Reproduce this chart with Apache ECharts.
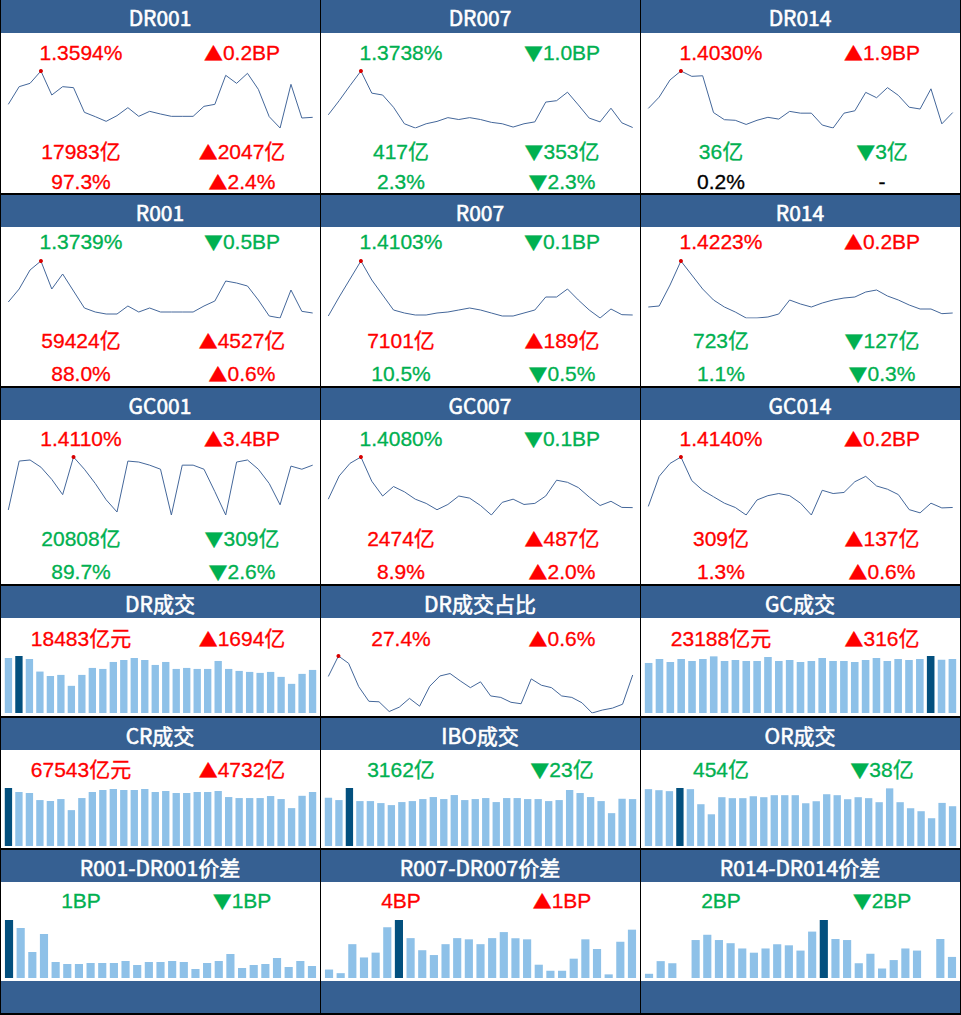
<!DOCTYPE html>
<html>
<head>
<meta charset="utf-8">
<title>资金面</title>
<script src="https://cdn.jsdelivr.net/npm/echarts@6/dist/echarts.min.js"></script>
<style>
  html, body { margin: 0; padding: 0; background: #fff; }
  #main { width: 961px; height: 1015px; }
</style>
</head>
<body>
<div id="main"></div>
<script>
// 面板标题
const panelTitles = [
  'DR001', 'DR007', 'DR014',
  'R001', 'R007', 'R014',
  'GC001', 'GC007', 'GC014',
  'DR成交', 'DR成交占比', 'GC成交',
  'CR成交', 'IBO成交', 'OR成交',
  'R001-DR001价差', 'R007-DR007价差', 'R014-DR014价差'
]

// 利率走势 (%)
const dr001 = [1.3633, 1.3686, 1.3696, 1.3733, 1.3661, 1.3686, 1.3683, 1.3609, 1.3596, 1.3582, 1.3599, 1.3623, 1.3597, 1.3612, 1.3604, 1.3597, 1.3597, 1.3597, 1.3627, 1.3633, 1.3720, 1.3696, 1.3726, 1.3678, 1.3596, 1.3562, 1.3693, 1.3592, 1.3594]
const dr007 = [1.3765, 1.3795, 1.3827, 1.3858, 1.3811, 1.3807, 1.3781, 1.3746, 1.3737, 1.3746, 1.3751, 1.3759, 1.3755, 1.3759, 1.3755, 1.3749, 1.3746, 1.3739, 1.3746, 1.3750, 1.3792, 1.3795, 1.3813, 1.3786, 1.3758, 1.3750, 1.3779, 1.3748, 1.3738]
const dr014 = [1.4037, 1.4056, 1.4085, 1.4100, 1.4091, 1.4092, 1.4030, 1.4018, 1.4017, 1.4010, 1.4017, 1.4022, 1.4019, 1.4032, 1.4029, 1.4029, 1.4009, 1.4004, 1.4029, 1.4033, 1.4064, 1.4055, 1.4072, 1.4059, 1.4039, 1.4036, 1.4070, 1.4011, 1.4030]
const r001 = [1.3772, 1.3811, 1.3868, 1.3895, 1.3811, 1.3856, 1.3805, 1.3754, 1.3742, 1.3736, 1.3736, 1.3760, 1.3742, 1.3754, 1.3742, 1.3742, 1.3742, 1.3742, 1.3760, 1.3775, 1.3835, 1.3829, 1.3820, 1.3778, 1.3730, 1.3724, 1.3808, 1.3744, 1.3739]
const r007 = [1.4100, 1.4157, 1.4211, 1.4265, 1.4208, 1.4163, 1.4118, 1.4109, 1.4103, 1.4103, 1.4109, 1.4112, 1.4118, 1.4124, 1.4118, 1.4109, 1.4100, 1.4100, 1.4109, 1.4118, 1.4157, 1.4157, 1.4181, 1.4148, 1.4118, 1.4094, 1.4121, 1.4104, 1.4103]
const r014 = [1.4241, 1.4244, 1.4307, 1.4379, 1.4337, 1.4295, 1.4262, 1.4241, 1.4226, 1.4208, 1.4208, 1.4211, 1.4220, 1.4262, 1.4250, 1.4241, 1.4253, 1.4262, 1.4268, 1.4271, 1.4286, 1.4292, 1.4274, 1.4262, 1.4247, 1.4235, 1.4235, 1.4221, 1.4223]
const gc001 = [1.3736, 1.4144, 1.4153, 1.4093, 1.3991, 1.3864, 1.4178, 1.4076, 1.3957, 1.3821, 1.3719, 1.4144, 1.4136, 1.4110, 1.4076, 1.3694, 1.4110, 1.4110, 1.4076, 1.3889, 1.3694, 1.4136, 1.4153, 1.4076, 1.3957, 1.3779, 1.4102, 1.4076, 1.4110]
const gc007 = [1.4120, 1.4230, 1.4290, 1.4320, 1.4205, 1.4135, 1.4180, 1.4155, 1.4120, 1.4100, 1.4070, 1.4095, 1.4135, 1.4125, 1.4090, 1.4045, 1.4105, 1.4120, 1.4095, 1.4100, 1.4135, 1.4210, 1.4200, 1.4175, 1.4130, 1.4090, 1.4110, 1.4081, 1.4080]
const gc014 = [1.4145, 1.4285, 1.4345, 1.4375, 1.4265, 1.4220, 1.4190, 1.4160, 1.4140, 1.4105, 1.4175, 1.4195, 1.4205, 1.4195, 1.4160, 1.4105, 1.4220, 1.4205, 1.4210, 1.4260, 1.4285, 1.4240, 1.4225, 1.4200, 1.4130, 1.4115, 1.4160, 1.4138, 1.4140]

// 上三行的文字
const rateLabels = ['1.3594%', '1.3738%', '1.4030%', '1.3739%', '1.4103%', '1.4223%', '1.4110%', '1.4080%', '1.4140%']
const rateChanges = ['▲0.2BP', '▼1.0BP', '▲1.9BP', '▼0.5BP', '▼0.1BP', '▲0.2BP', '▲3.4BP', '▼0.1BP', '▲0.2BP']
const volumeLabels = ['17983亿', '417亿', '36亿', '59424亿', '7101亿', '723亿', '20808亿', '2474亿', '309亿']
const volumeChanges = ['▲2047亿', '▼353亿', '▼3亿', '▲4527亿', '▲189亿', '▼127亿', '▼309亿', '▲487亿', '▲137亿']
const shareLabels = ['97.3%', '2.3%', '0.2%', '88.0%', '10.5%', '1.1%', '89.7%', '8.9%', '1.3%']
const shareChanges = ['▲2.4%', '▼2.3%', '-', '▲0.6%', '▼0.5%', '▼0.3%', '▼2.6%', '▲2.0%', '▲0.6%']

// 成交量 (亿元)
const drVolume = [23600, 24460, 23180, 17780, 15930, 16350, 11660, 16350, 19340, 18910, 21900, 22750, 23600, 22750, 20620, 21900, 18910, 19340, 18910, 18910, 22330, 18910, 18060, 17630, 17210, 17630, 15500, 12510, 16789, 18483]
const drShare = [27.37, 27.79, 27.64, 27.16, 26.86, 26.85, 26.65, 26.74, 26.92, 26.76, 27.17, 27.38, 27.43, 27.28, 27.14, 27.26, 26.97, 26.94, 26.84, 26.81, 27.32, 27.19, 27.14, 26.97, 26.94, 26.83, 26.62, 26.68, 26.72, 26.80, 27.40]
const gcVolume = [21490, 23190, 21910, 23190, 22340, 23190, 24330, 22340, 22770, 22340, 22340, 24050, 22340, 22770, 21910, 22340, 23620, 22340, 22340, 21910, 22770, 23620, 22340, 23190, 22770, 23190, 24480, 22872, 23188]
const crVolume = [72570, 67540, 66280, 57470, 56210, 58730, 44890, 59990, 67540, 70060, 71320, 70060, 70060, 71320, 67540, 68800, 66280, 66280, 67540, 67540, 68800, 61250, 59990, 59990, 59990, 62510, 58730, 47400, 62811, 67543]
const iboVolume = [3254, 3096, 3910, 3028, 3028, 2893, 2757, 2961, 3028, 3164, 3300, 3164, 3435, 3096, 3164, 3232, 2961, 3232, 3232, 3164, 3164, 3028, 3096, 3774, 3571, 3300, 3028, 2215, 3185, 3162]
const orVolume = [649, 637, 626, 662, 649, 477, 362, 557, 546, 546, 568, 557, 580, 580, 580, 488, 511, 591, 580, 534, 557, 546, 500, 658, 500, 431, 397, 317, 492, 454]

// 价差 (BP)
const spread001 = [5.8, 5.0, 2.6, 4.4, 1.6, 1.4, 1.4, 1.5, 1.5, 1.5, 1.7, 1.3, 1.6, 1.6, 1.7, 1.6, 0.9, 1.5, 1.7, 2.4, 1.0, 1.3, 1.4, 2.0, 1.1, 1.7, 1.2]
const spread007 = [0.7, 0.4, 2.8, 1.7, 2.1, 4.2, 4.8, 3.3, 2.3, 1.9, 2.8, 3.3, 3.2, 2.8, 3.3, 3.8, 3.3, 3.2, 1.1, 0.6, 0.6, 1.6, 3.2, 2.4, 0.3, 3.0, 4.0]
const spread014 = [0.4, 1.6, 1.4, 0, 3.6, 4.1, 3.6, 3.3, 2.8, 2.4, 2.8, 3.2, 3.1, 2.6, 4.4, 5.5, 3.7, 3.6, 1.4, 2.3, 0.9, 1.7, 2.8, 2.6, 0, 3.7, 2.0]

// 下三行的文字
const lowerLabels = ['18483亿元', '27.4%', '23188亿元', '67543亿元', '3162亿', '454亿', '1BP', '4BP', '2BP']
const lowerChanges = ['▲1694亿', '▲0.6%', '▲316亿', '▲4732亿', '▼23亿', '▼38亿', '▼1BP', '▲1BP', '▼2BP']

const rateSeries = [dr001, dr007, dr014, r001, r007, r014, gc001, gc007, gc014]
const lowerSeries = [drVolume, drShare, gcVolume, crVolume, iboVolume, orVolume, spread001, spread007, spread014]

// 样式
const HEADER_BLUE = '#366092'
const RED = '#FF0000'
const GREEN = '#00B050'
const LINE_COLOR = '#44679A'
const BAR_LIGHT = '#8EC1E8'
const BAR_DARK = '#03507E'
const VALUE_FONT = '21px "Liberation Sans", Arial, "Noto Sans CJK SC"'
const TRI_FONT = '19px "Noto Sans CJK SC"'
const HEAD_FONT = '21px "Noto Sans CJK SC", "Liberation Sans"'

const colX = [0, 320, 640]
const headerY = [0, 195, 388, 586, 718, 850]
const textY = [[52, 151, 181], [241, 340, 373], [438, 538, 571], [638], [769], [900]]
const chartY = [[71, 128], [261, 318], [457, 515], [656, 713], [788, 846], [920, 978]]

function signColor(s) {
  if (s[0] === '▲') return RED
  if (s[0] === '▼') return GREEN
  return '#000'
}

const graphics = []
const grids = []
const xAxes = []
const yAxes = []
const series = []

function addText(text, x, y, fill, font, strokeWidth) {
  const style = { text: text, fill: fill, font: font, align: 'center', verticalAlign: 'middle' }
  // 描一圈细边让字重一点
  if (strokeWidth) {
    style.stroke = fill
    style.lineWidth = strokeWidth
  }
  // 涨跌三角用大一点的字体
  if (text[0] === '▲' || text[0] === '▼') {
    style.text = '{t|' + text[0] + '}' + text.slice(1)
    style.rich = { t: { font: TRI_FONT, fill: fill } }
  }
  graphics.push({ type: 'text', x: x, y: y, silent: true, style: style })
}

function addRect(x, y, w, h, fill) {
  graphics.push({ type: 'rect', silent: true, shape: { x: x, y: y, width: w, height: h }, style: { fill: fill } })
}

function addChart(values, type, row, col) {
  const i = grids.length
  const isBar = type === 'bar'
  const x0 = colX[col]
  grids.push({
    left: x0 + (isBar ? 3.2 : 8.3),
    width: isBar ? 314.6 : 304.4,
    top: chartY[row][0],
    height: chartY[row][1] - chartY[row][0]
  })
  xAxes.push({ type: 'category', gridIndex: i, show: false, boundaryGap: isBar, data: values.map((v, k) => k + 1) })
  yAxes.push({ type: 'value', gridIndex: i, show: false, min: isBar ? 0 : 'dataMin', max: 'dataMax' })
  if (isBar) {
    const maxIdx = values.indexOf(Math.max(...values))
    series.push({
      type: 'bar', xAxisIndex: i, yAxisIndex: i, silent: true,
      barWidth: '70%',
      itemStyle: { color: BAR_LIGHT },
      data: values.map((v, k) => k === maxIdx ? { value: v, itemStyle: { color: BAR_DARK } } : v)
    })
  } else {
    series.push({
      type: 'line', xAxisIndex: i, yAxisIndex: i, silent: true,
      symbol: 'none',
      lineStyle: { color: LINE_COLOR, width: 1 },
      data: values,
      markPoint: {
        symbol: 'circle', symbolSize: 4,
        itemStyle: { color: '#D80000' },
        label: { show: false },
        data: [{ type: 'max' }]
      }
    })
  }
}

// 背景和分隔线
addRect(0, 0, 961, 1015, '#fff')
panelTitles.forEach((t, p) => {
  const row = Math.floor(p / 3)
  const col = p % 3
  addRect(colX[col] + 1, headerY[row], 319, row === 0 ? 33 : 32, HEADER_BLUE)
  addText(t, colX[col] + 160, headerY[row] + 17, '#fff', HEAD_FONT, 0.6)
})
addRect(1, 981, 959, 33, HEADER_BLUE)
;[193, 386, 584, 716, 848, 1013].forEach(y => addRect(0, y, 961, 2, '#000'))
;[0, 320, 640, 960].forEach(x => addRect(x, 0, 1, 1015, '#000'))

// 上三行: 利率、成交、占比
rateSeries.forEach((data, p) => {
  const row = Math.floor(p / 3)
  const col = p % 3
  const x0 = colX[col]
  const ty = textY[row]
  addText(rateLabels[p], x0 + 81, ty[0], signColor(rateChanges[p]), VALUE_FONT, 0.3)
  addText(rateChanges[p], x0 + 242, ty[0], signColor(rateChanges[p]), VALUE_FONT, 0.3)
  addText(volumeLabels[p], x0 + 81, ty[1], signColor(volumeChanges[p]), VALUE_FONT, 0.3)
  addText(volumeChanges[p], x0 + 242, ty[1], signColor(volumeChanges[p]), VALUE_FONT, 0.3)
  addText(shareLabels[p], x0 + 81, ty[2], signColor(shareChanges[p]), VALUE_FONT, 0.3)
  addText(shareChanges[p], x0 + 242, ty[2], signColor(shareChanges[p]), VALUE_FONT, 0.3)
  addChart(data, 'line', row, col)
})

// 下三行: 成交量、占比、价差
lowerSeries.forEach((data, p) => {
  const row = 3 + Math.floor(p / 3)
  const col = p % 3
  const x0 = colX[col]
  addText(lowerLabels[p], x0 + 81, textY[row][0], signColor(lowerChanges[p]), VALUE_FONT, 0.3)
  addText(lowerChanges[p], x0 + 242, textY[row][0], signColor(lowerChanges[p]), VALUE_FONT, 0.3)
  addChart(data, p === 1 ? 'line' : 'bar', row, col)
})

const chart = echarts.init(document.getElementById('main'), null, { renderer: 'svg' })
chart.setOption({
  animation: false,
  graphic: { elements: graphics },
  grid: grids,
  xAxis: xAxes,
  yAxis: yAxes,
  series: series
})
</script>
</body>
</html>
